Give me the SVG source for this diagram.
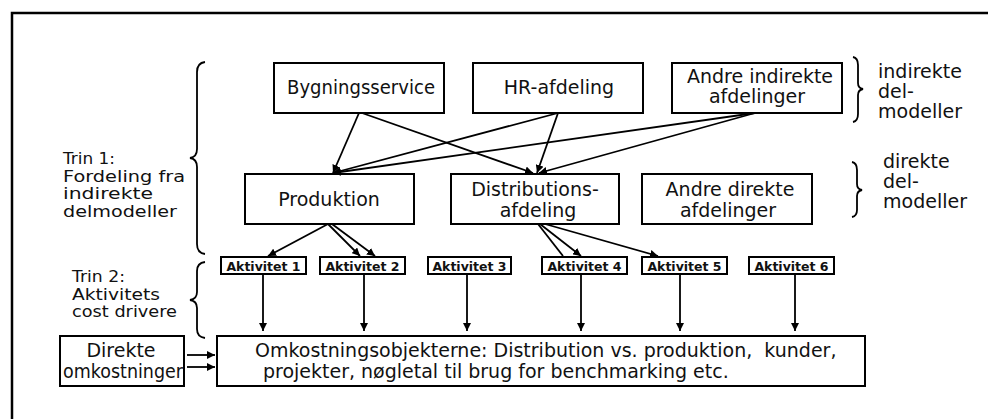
<svg xmlns="http://www.w3.org/2000/svg" width="988" height="419" viewBox="0 0 988 419">
<defs>
<marker id="ah" viewBox="0 0 10 10" refX="10" refY="5" markerWidth="8" markerHeight="8" markerUnits="userSpaceOnUse" orient="auto">
<path d="M0,0 L10,5 L0,10 z" fill="#000"/>
</marker>
</defs>
<style>
.box{fill:#fff;stroke:#000;stroke-width:2}
.t{font-family:"DejaVu Sans","Liberation Sans",sans-serif;font-size:19px;fill:#111}
.l{font-family:"DejaVu Sans","Liberation Sans",sans-serif;font-size:15px;fill:#111}
.m{text-anchor:middle}
.a{font-family:"DejaVu Sans","Liberation Sans",sans-serif;font-size:12.5px;font-weight:bold;fill:#111;text-anchor:middle}
.c{fill:none;stroke:#000;stroke-width:1.8}
.br{fill:none;stroke:#000;stroke-width:1.8}
.frame{fill:none;stroke:#000;stroke-width:2.5}
</style>
<rect width="988" height="419" fill="#fff"/>
<path class="frame" d="M12,419 L12,13 L988,13"/>

<g id="labels-left">
<path class="br" d="M205,62 Q197,63 197,72 L197,149 Q197,157 190,158 Q197,159 197,167 L197,244 Q197,253 205,254"/>
<text class="l" x="63" y="164" textLength="52" lengthAdjust="spacingAndGlyphs">Trin 1:</text>
<text class="l" x="63" y="181.5" textLength="122" lengthAdjust="spacingAndGlyphs">Fordeling fra</text>
<text class="l" x="63" y="199" textLength="90" lengthAdjust="spacingAndGlyphs">indirekte</text>
<text class="l" x="63" y="216.5" textLength="114" lengthAdjust="spacingAndGlyphs">delmodeller</text>
<path class="br" d="M205,262 Q197,263 197,271 L197,292 Q197,299 190,300 Q197,301 197,308 L197,329 Q197,337 205,338"/>
<text class="l" x="72" y="282" textLength="53" lengthAdjust="spacingAndGlyphs">Trin 2:</text>
<text class="l" x="72" y="299.5" textLength="88" lengthAdjust="spacingAndGlyphs">Aktivitets</text>
<text class="l" x="72" y="317" textLength="105" lengthAdjust="spacingAndGlyphs">cost drivere</text>
</g>

<g id="labels-right">
<path class="br" d="M853,57 Q858,58 858,65 L858,83 Q858,88 863,89 Q858,90 858,95 L858,114 Q858,121 853,122"/>
<text class="t" x="878" y="78">indirekte</text>
<text class="t" x="878" y="98">del-</text>
<text class="t" x="878" y="118">modeller</text>
<path class="br" d="M852,162 Q857,163 857,170 L857,184 Q857,189 862,190 Q857,191 857,196 L857,210 Q857,216 852,217"/>
<text class="t" x="883" y="168">direkte</text>
<text class="t" x="883" y="188">del-</text>
<text class="t" x="883" y="208">modeller</text>
</g>

<g id="bygningsservice">
<rect class="box" x="274" y="63" width="170" height="50"/>
<text class="t m" x="361" y="94" textLength="148" lengthAdjust="spacingAndGlyphs">Bygningsservice</text>
</g>
<g id="hr-afdeling">
<rect class="box" x="473" y="63" width="170" height="50"/>
<text class="t m" x="559" y="94">HR-afdeling</text>
</g>
<g id="andre-indirekte">
<rect class="box" x="672" y="63" width="170" height="50"/>
<text class="t m" x="760" y="83">Andre indirekte</text>
<text class="t m" x="757" y="103">afdelinger</text>
</g>

<g id="produktion">
<rect class="box" x="245" y="174" width="169" height="50"/>
<text class="t m" x="329" y="206">Produktion</text>
</g>
<g id="distributionsafdeling">
<rect class="box" x="451" y="174" width="168" height="50"/>
<text class="t m" x="535" y="196">Distributions-</text>
<text class="t m" x="538" y="217">afdeling</text>
</g>
<g id="andre-direkte">
<rect class="box" x="642" y="174" width="170" height="50"/>
<text class="t m" x="730" y="196">Andre direkte</text>
<text class="t m" x="728" y="217">afdelinger</text>
</g>

<g id="aktivitet-1"><rect class="box" x="221" y="257" width="85" height="17"/><text class="a" x="263.5" y="271">Aktivitet 1</text></g>
<g id="aktivitet-2"><rect class="box" x="320" y="257" width="85" height="17"/><text class="a" x="362.5" y="271">Aktivitet 2</text></g>
<g id="aktivitet-3"><rect class="box" x="428" y="257" width="83" height="17"/><text class="a" x="469.5" y="271">Aktivitet 3</text></g>
<g id="aktivitet-4"><rect class="box" x="542" y="257" width="85" height="17"/><text class="a" x="584.5" y="271">Aktivitet 4</text></g>
<g id="aktivitet-5"><rect class="box" x="642" y="257" width="85" height="17"/><text class="a" x="684.5" y="271">Aktivitet 5</text></g>
<g id="aktivitet-6"><rect class="box" x="749" y="257" width="85" height="17"/><text class="a" x="791.5" y="271">Aktivitet 6</text></g>

<g id="direkte-omkostninger">
<rect class="box" x="60" y="336" width="124" height="50"/>
<text class="t m" x="121" y="357">Direkte</text>
<text class="t m" x="123" y="378" textLength="120" lengthAdjust="spacingAndGlyphs">omkostninger</text>
</g>
<g id="omkostningsobjekterne">
<rect class="box" x="217" y="336" width="648" height="50"/>
<text class="t" x="255" y="357" xml:space="preserve">Omkostningsobjekterne: Distribution vs. produktion,  kunder,</text>
<text class="t" x="263" y="378">projekter, nøgletal til brug for benchmarking etc.</text>
</g>

<g id="connectors">
<line class="c" x1="359" y1="113" x2="333" y2="173" marker-end="url(#ah)"/>
<line class="c" x1="362" y1="113" x2="533" y2="173" marker-end="url(#ah)"/>
<line class="c" x1="558" y1="113" x2="333" y2="173" marker-end="url(#ah)"/>
<line class="c" x1="558" y1="113" x2="537" y2="173" marker-end="url(#ah)"/>
<line class="c" x1="755" y1="113" x2="333" y2="173" marker-end="url(#ah)"/>
<line class="c" x1="755" y1="113" x2="539" y2="173" marker-end="url(#ah)"/>

<line class="c" x1="328" y1="224" x2="268" y2="256" marker-end="url(#ah)"/>
<line class="c" x1="328" y1="224" x2="360" y2="256" marker-end="url(#ah)"/>
<line class="c" x1="332" y1="224" x2="375" y2="256" marker-end="url(#ah)"/>

<line class="c" x1="538" y1="224" x2="563" y2="256"/>
<line class="c" x1="540" y1="224" x2="581" y2="256" marker-end="url(#ah)"/>
<line class="c" x1="545" y1="224" x2="658" y2="256" marker-end="url(#ah)"/>

<line class="c" x1="263" y1="274" x2="263" y2="331" marker-end="url(#ah)"/>
<line class="c" x1="364" y1="274" x2="364" y2="331" marker-end="url(#ah)"/>
<line class="c" x1="467" y1="274" x2="467" y2="331" marker-end="url(#ah)"/>
<line class="c" x1="581" y1="274" x2="581" y2="331" marker-end="url(#ah)"/>
<line class="c" x1="680" y1="274" x2="680" y2="331" marker-end="url(#ah)"/>
<line class="c" x1="795" y1="274" x2="795" y2="331" marker-end="url(#ah)"/>

<line class="c" x1="187" y1="355" x2="215" y2="355" marker-end="url(#ah)"/>
<line class="c" x1="187" y1="367" x2="215" y2="367" marker-end="url(#ah)"/>
</g>
</svg>
